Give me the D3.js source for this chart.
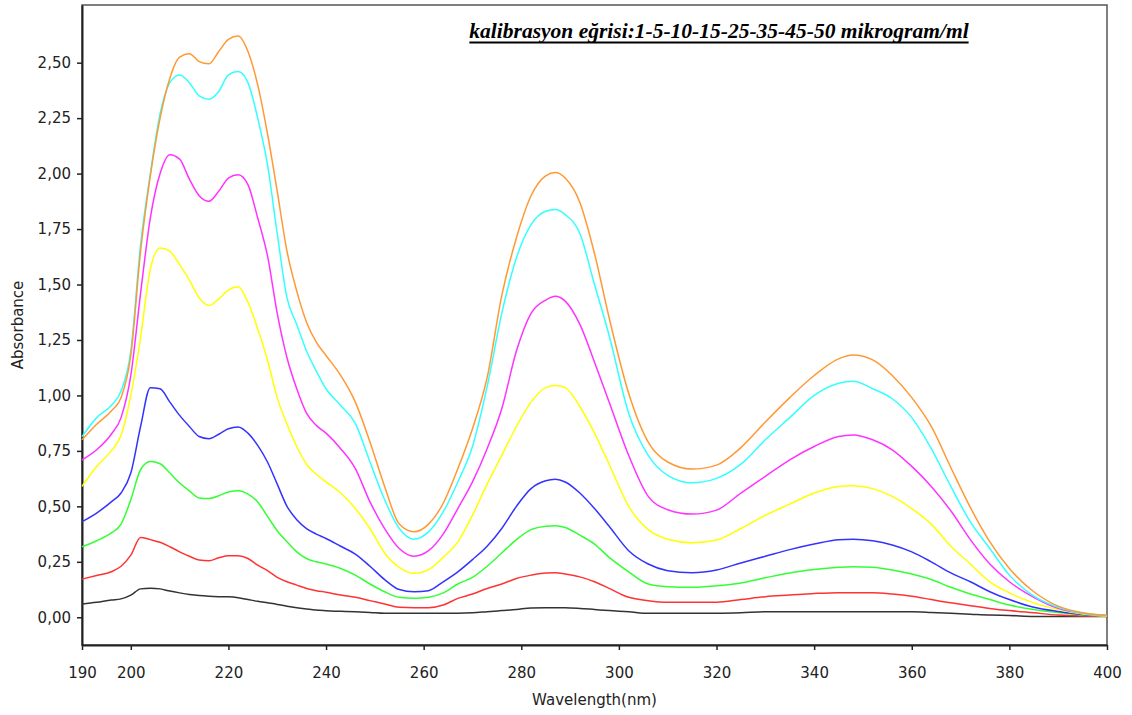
<!DOCTYPE html>
<html>
<head>
<meta charset="utf-8">
<script src="https://cdn.jsdelivr.net/npm/d3@7"></script>
<style>
  html, body { margin: 0; padding: 0; background: #ffffff; }
  svg { display: block; }
</style>
</head>
<body>
<svg id="chart" width="1132" height="715"></svg>
<script>
// Wavelength grid (nm) shared by every spectrum
const wavelength = [190,193,196,198,200,202,204,206,208,210,212,214,216,218,220,222,224,226,228,230,
  232,234,236,238,240,243,246,249,252,255,258,261,264,267,270,273,276,279,282,285,287,289,292,295,298,
  302,306,310,315,320,325,330,335,340,345,348,352,356,360,364,368,372,376,380,385,390,395,400];

// Absorbance spectra, one array per concentration (µg/ml)
const abs1 = [0.060,0.068,0.078,0.083,0.100,0.128,0.131,0.128,0.118,0.110,0.103,0.098,0.095,0.093,0.092,0.088,0.080,0.072,0.065,0.058,
  0.050,0.043,0.037,0.033,0.029,0.027,0.025,0.022,0.018,0.018,0.018,0.018,0.018,0.018,0.020,0.025,0.030,0.035,0.042,0.043,0.043,0.043,0.040,0.035,0.030,
  0.025,0.018,0.018,0.018,0.018,0.020,0.025,0.025,0.025,0.025,0.025,0.025,0.025,0.025,0.022,0.018,0.014,0.010,0.008,0.004,0.003,0.003,0.003];
const abs5 = [0.172,0.188,0.205,0.230,0.280,0.360,0.350,0.338,0.318,0.295,0.275,0.258,0.255,0.268,0.277,0.277,0.265,0.235,0.210,0.180,
  0.160,0.145,0.130,0.120,0.113,0.100,0.090,0.075,0.060,0.045,0.043,0.043,0.055,0.085,0.105,0.130,0.150,0.175,0.190,0.200,0.201,0.195,0.182,0.160,0.130,
  0.090,0.075,0.068,0.068,0.068,0.080,0.093,0.100,0.107,0.111,0.111,0.111,0.105,0.095,0.080,0.065,0.052,0.040,0.030,0.020,0.010,0.006,0.005];
const abs10 = [0.318,0.345,0.380,0.420,0.530,0.665,0.702,0.692,0.650,0.605,0.570,0.538,0.535,0.548,0.565,0.570,0.555,0.520,0.455,0.390,
  0.340,0.295,0.265,0.250,0.240,0.220,0.190,0.150,0.115,0.090,0.086,0.090,0.110,0.150,0.180,0.230,0.290,0.350,0.395,0.410,0.413,0.405,0.370,0.330,0.270,
  0.205,0.150,0.138,0.135,0.142,0.155,0.178,0.200,0.215,0.225,0.228,0.225,0.213,0.195,0.170,0.135,0.105,0.080,0.055,0.035,0.021,0.010,0.005];
const abs15 = [0.431,0.470,0.520,0.560,0.650,0.860,1.035,1.030,0.970,0.910,0.860,0.815,0.805,0.825,0.850,0.858,0.830,0.775,0.700,0.600,
  0.500,0.440,0.400,0.375,0.355,0.320,0.285,0.230,0.170,0.125,0.115,0.120,0.160,0.205,0.260,0.320,0.400,0.500,0.580,0.615,0.622,0.610,0.560,0.490,0.410,
  0.300,0.240,0.210,0.201,0.213,0.245,0.275,0.305,0.330,0.350,0.352,0.345,0.326,0.295,0.250,0.200,0.160,0.115,0.080,0.045,0.026,0.012,0.005];
const abs25 = [0.590,0.680,0.750,0.820,1.000,1.260,1.570,1.665,1.650,1.590,1.520,1.440,1.405,1.435,1.475,1.490,1.420,1.300,1.160,0.990,
  0.870,0.770,0.690,0.645,0.610,0.560,0.490,0.400,0.290,0.225,0.198,0.215,0.270,0.340,0.460,0.600,0.730,0.860,0.970,1.035,1.045,1.035,0.950,0.830,0.690,
  0.500,0.395,0.352,0.336,0.348,0.400,0.460,0.510,0.560,0.590,0.593,0.580,0.545,0.490,0.420,0.320,0.240,0.160,0.110,0.065,0.035,0.015,0.005];
const abs35 = [0.709,0.755,0.825,0.900,1.090,1.460,1.800,2.000,2.085,2.065,1.975,1.900,1.875,1.920,1.980,1.995,1.950,1.800,1.630,1.370,
  1.170,1.030,0.920,0.865,0.830,0.760,0.670,0.520,0.400,0.310,0.275,0.300,0.375,0.490,0.610,0.760,0.940,1.200,1.370,1.430,1.447,1.425,1.320,1.150,0.970,
  0.730,0.545,0.485,0.465,0.483,0.560,0.635,0.710,0.770,0.815,0.822,0.800,0.755,0.680,0.590,0.480,0.350,0.240,0.160,0.090,0.040,0.018,0.008];
const abs45 = [0.814,0.900,0.955,1.020,1.200,1.680,2.000,2.270,2.410,2.445,2.410,2.350,2.335,2.370,2.445,2.460,2.410,2.250,2.040,1.730,
  1.440,1.320,1.200,1.110,1.030,0.955,0.874,0.700,0.530,0.400,0.352,0.385,0.475,0.610,0.770,1.040,1.370,1.620,1.770,1.830,1.838,1.815,1.730,1.500,1.270,
  0.920,0.730,0.640,0.606,0.626,0.690,0.800,0.900,1.000,1.055,1.064,1.030,0.985,0.900,0.760,0.590,0.430,0.310,0.190,0.095,0.045,0.018,0.008];
const abs50 = [0.800,0.870,0.930,0.990,1.180,1.650,1.990,2.250,2.430,2.525,2.540,2.505,2.495,2.550,2.605,2.620,2.550,2.400,2.180,1.920,
  1.650,1.470,1.330,1.240,1.180,1.090,0.970,0.790,0.590,0.420,0.385,0.420,0.514,0.670,0.850,1.080,1.450,1.710,1.900,1.990,2.005,1.980,1.870,1.640,1.350,
  1.010,0.790,0.700,0.668,0.686,0.765,0.880,0.990,1.090,1.165,1.182,1.160,1.090,0.990,0.860,0.675,0.495,0.340,0.220,0.115,0.050,0.020,0.008];

const seriesValues = [abs1, abs5, abs10, abs15, abs25, abs35, abs45, abs50];
const seriesNames = ["1", "5", "10", "15", "25", "35", "45", "50"];

// Axis ticks
const xTicks = [190, 200, 220, 240, 260, 280, 300, 320, 340, 360, 380, 400];
const yTicks = [0, 0.25, 0.5, 0.75, 1, 1.25, 1.5, 1.75, 2, 2.25, 2.5];

const titleText = "kalibrasyon eğrisi:1-5-10-15-25-35-45-50 mikrogram/ml";
const xLabel = "Wavelength(nm)";
const yLabel = "Absorbance";

const lineColors = ["#333333", "#ff3333", "#33ff33", "#3333ff", "#ffff00", "#ff33ff", "#33ffff", "#ff9933"];

const svg = d3.select("#chart");
const plot = { left: 82, right: 1107, top: 5, bottom: 645 };

const x = d3.scaleLinear().domain([190, 400]).range([plot.left, plot.right]);
const y = d3.scaleLinear().domain([-0.125, 2.76]).range([plot.bottom, plot.top]);

const fmt = d => d3.format(".2f")(d).replace(".", ",");

// Plot frame
svg.append("rect")
  .attr("x", plot.left).attr("y", plot.top)
  .attr("width", plot.right - plot.left).attr("height", plot.bottom - plot.top)
  .attr("fill", "none").attr("stroke", "#555555").attr("stroke-width", 1.5);

// Y axis
const yAxis = svg.append("g")
  .attr("transform", `translate(${plot.left},0)`)
  .call(d3.axisLeft(y).tickValues(yTicks).tickFormat(fmt).tickSizeInner(5).tickSizeOuter(0).tickPadding(6));
yAxis.select(".domain").attr("stroke", "#222").attr("stroke-width", 2);
yAxis.selectAll(".tick line").attr("stroke", "#222").attr("stroke-width", 1.5);
yAxis.selectAll(".tick text")
  .attr("font-family", "DejaVu Sans, sans-serif").attr("font-size", 15).attr("fill", "#222");

// X axis
const xAxis = svg.append("g")
  .attr("transform", `translate(0,${plot.bottom})`)
  .call(d3.axisBottom(x).tickValues(xTicks).tickFormat(d3.format("d")).tickSizeInner(5).tickSizeOuter(0).tickPadding(17));
xAxis.select(".domain").attr("stroke", "#222").attr("stroke-width", 2);
xAxis.selectAll(".tick line").attr("stroke", "#222").attr("stroke-width", 1.5);
xAxis.selectAll(".tick text")
  .attr("font-family", "DejaVu Sans, sans-serif").attr("font-size", 15).attr("fill", "#222");

// Spectra
const line = d3.line()
  .x((d, i) => x(wavelength[i]))
  .y(d => y(d))
  .curve(d3.curveMonotoneX);

svg.append("g")
  .attr("fill", "none")
  .attr("stroke-width", 1.5)
  .attr("stroke-linejoin", "round")
  .selectAll("path")
  .data(seriesValues)
  .join("path")
  .attr("class", (d, i) => "spectrum c" + seriesNames[i])
  .attr("stroke", (d, i) => lineColors[i])
  .attr("d", line);

// Axis titles
svg.append("text")
  .attr("x", (plot.left + plot.right) / 2).attr("y", 705)
  .attr("text-anchor", "middle")
  .attr("font-family", "DejaVu Sans, sans-serif").attr("font-size", 15).attr("fill", "#222")
  .text(xLabel);

svg.append("text")
  .attr("transform", `translate(23,${(plot.top + plot.bottom) / 2}) rotate(-90)`)
  .attr("text-anchor", "middle")
  .attr("font-family", "DejaVu Sans, sans-serif").attr("font-size", 15).attr("fill", "#222")
  .text(yLabel);

// Underlined chart title
const titleX = 719;
const title = svg.append("text")
  .attr("x", titleX).attr("y", 38)
  .attr("text-anchor", "middle")
  .attr("font-family", "Liberation Serif, Times New Roman, serif")
  .attr("font-weight", "bold").attr("font-style", "italic")
  .attr("font-size", 21.5).attr("fill", "#000")
  .text(titleText);
const tw = title.node().getComputedTextLength();
svg.append("line")
  .attr("x1", titleX - tw / 2).attr("x2", titleX + tw / 2)
  .attr("y1", 42.5).attr("y2", 42.5)
  .attr("stroke", "#000").attr("stroke-width", 1.8);
</script>
</body>
</html>
